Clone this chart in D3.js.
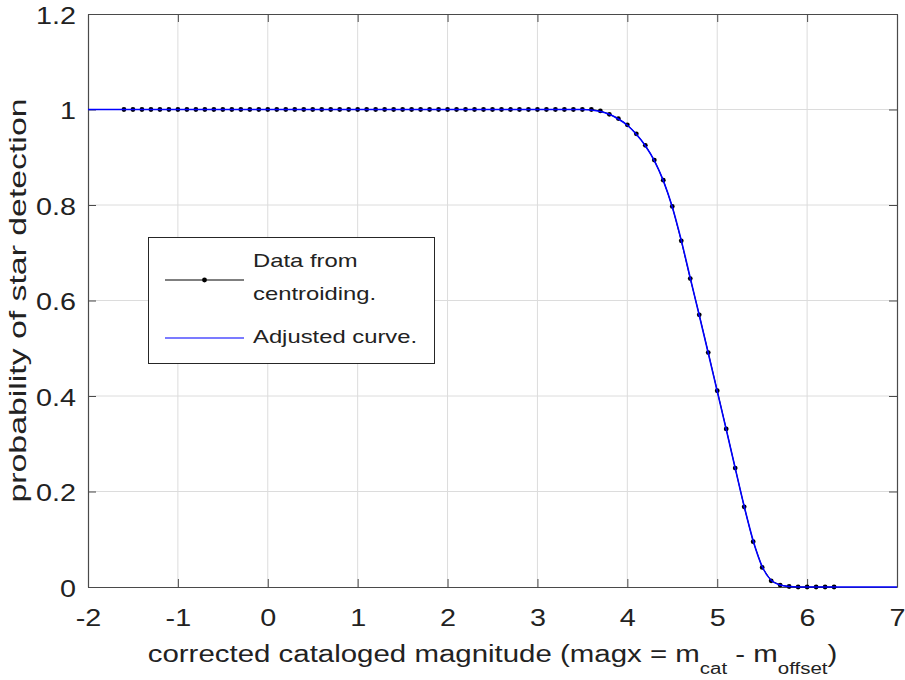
<!DOCTYPE html>
<html>
<head>
<meta charset="utf-8">
<style>
  body { margin: 0; background: #fff; }
  text { font-family: "Liberation Sans", Arial, sans-serif; fill: #222; }
</style>
</head>
<body>
<svg id="chart" width="905" height="680"></svg>
<script src="https://cdn.jsdelivr.net/npm/d3@7"></script>
<script>
// data: detection probability vs corrected magnitude
const magx = [-1.6, -1.5, -1.4, -1.3, -1.2, -1.1, -1.0, -0.9, -0.8, -0.7,
  -0.6, -0.5, -0.4, -0.3, -0.2, -0.1, 0.0, 0.1, 0.2, 0.3,
  0.4, 0.5, 0.6, 0.7, 0.8, 0.9, 1.0, 1.1, 1.2, 1.3,
  1.4, 1.5, 1.6, 1.7, 1.8, 1.9, 2.0, 2.1, 2.2, 2.3,
  2.4, 2.5, 2.6, 2.7, 2.8, 2.9, 3.0, 3.1, 3.2, 3.3,
  3.4, 3.5, 3.6, 3.7, 3.8, 3.9, 4.0, 4.1, 4.2, 4.3,
  4.4, 4.5, 4.6, 4.7, 4.8, 4.9, 5.0, 5.1, 5.2, 5.3,
  5.4, 5.5, 5.6, 5.7, 5.8, 5.9, 6.0, 6.1, 6.2, 6.3];
const pDetect = [1, 1, 1, 1, 1, 1, 1, 1, 1, 1,
  1, 1, 1, 1, 1, 1, 1, 1, 1, 1,
  1, 1, 1, 1, 1, 1, 1, 1, 1, 1,
  1, 1, 1, 1, 1, 1, 1, 1, 1, 1,
  1, 1, 1, 1, 1, 1, 1, 1, 1, 1,
  1, 1, 1, 0.997, 0.990, 0.981, 0.968, 0.949, 0.925, 0.894,
  0.852, 0.797, 0.725, 0.646, 0.570, 0.491, 0.411, 0.331, 0.249, 0.168,
  0.095, 0.041, 0.013, 0.004, 0.001, 0, 0, 0, 0, 0];

// adjusted (fitted) curve, sampled off the blue line
const fitX = [-2, 3.5, 3.6, 3.7, 3.8, 3.9, 4.0, 4.1, 4.2, 4.3, 4.4, 4.5, 4.6,
  4.7, 4.8, 4.9, 5.0, 5.1, 5.2, 5.3, 5.4, 5.5, 5.6, 5.7, 5.8, 5.9, 7];
const fitP = [1, 1, 0.999, 0.996, 0.990, 0.980, 0.967, 0.948, 0.924, 0.893, 0.851, 0.796, 0.726,
  0.647, 0.569, 0.490, 0.410, 0.330, 0.249, 0.169, 0.097, 0.043, 0.014, 0.004, 0.001, 0, 0];

const xTicks = [-2, -1, 0, 1, 2, 3, 4, 5, 6, 7];
const yTicks = [0, 0.2, 0.4, 0.6, 0.8, 1, 1.2];

const pLeft = 88, pRight = 897, pTop = 14, pBottom = 587;
const stretch = 1.25; // glyphs in the picture are wider than Arial

const svg = d3.select("#chart");
const x = d3.scaleLinear().domain([-2, 7]).range([pLeft, pRight]);
const y = d3.scaleLinear().domain([0, 1.2]).range([pBottom, pTop]);

// grid
svg.append("g").selectAll("line").data(xTicks.slice(1, -1)).join("line")
  .attr("x1", d => x(d)).attr("x2", d => x(d))
  .attr("y1", pTop).attr("y2", pBottom)
  .attr("stroke", "#dcdcdc").attr("stroke-width", 1);
svg.append("g").selectAll("line").data(yTicks.slice(1, -1)).join("line")
  .attr("x1", pLeft).attr("x2", pRight)
  .attr("y1", d => y(d)).attr("y2", d => y(d))
  .attr("stroke", "#dcdcdc").attr("stroke-width", 1);

// axes (ticks pointing inward, box all round)
const fmt = d => d3.format("~g")(d).replace("−", "-");
const axStyle = g => {
  g.select(".domain").attr("stroke", "#4a4a4a").attr("stroke-width", 1.2);
  g.selectAll(".tick line").attr("stroke", "#4a4a4a");
};
const xAxis = svg.append("g").attr("transform", `translate(0,${pBottom})`)
  .call(d3.axisBottom(x).tickValues(xTicks).tickSize(-8).tickSizeOuter(0).tickFormat(fmt))
  .call(axStyle);
xAxis.selectAll(".tick text")
  .attr("y", 0).attr("dy", 0)
  .attr("transform", `translate(0,39) scale(${stretch},1)`)
  .attr("font-size", 23).attr("fill", "#222");

const yAxis = svg.append("g").attr("transform", `translate(${pLeft},0)`)
  .call(d3.axisLeft(y).tickValues(yTicks).tickSize(-8).tickSizeOuter(0).tickFormat(fmt))
  .call(axStyle);
yAxis.selectAll(".tick text")
  .attr("x", 0).attr("dy", "0.35em")
  .attr("transform", `translate(-12,1) scale(${stretch},1)`)
  .attr("font-size", 23).attr("fill", "#222");

svg.append("g").attr("transform", `translate(0,${pTop})`)
  .call(d3.axisTop(x).tickValues(xTicks).tickSize(-8).tickSizeOuter(0).tickFormat(""))
  .call(axStyle);
svg.append("g").attr("transform", `translate(${pRight},0)`)
  .call(d3.axisRight(y).tickValues(yTicks).tickSize(-8).tickSizeOuter(0).tickFormat(""))
  .call(axStyle);

// series
const pts = magx.map((m, i) => [m, pDetect[i]]);
const fit = fitX.map((m, i) => [m, fitP[i]]);
const line = d3.line().x(d => x(d[0])).y(d => y(d[1]));

svg.append("path").datum(pts).attr("d", line)
  .attr("fill", "none").attr("stroke", "#000").attr("stroke-width", 1);
svg.append("g").selectAll("circle").data(pts).join("circle")
  .attr("cx", d => x(d[0])).attr("cy", d => y(d[1])).attr("r", 2.4)
  .attr("fill", "#000");
svg.append("path").datum(fit).attr("d", line.curve(d3.curveMonotoneX))
  .attr("fill", "none").attr("stroke", "#0000ff").attr("stroke-width", 1.6);

// axis titles
const xt = svg.append("text")
  .attr("transform", `translate(${(pLeft + pRight) / 2},662) scale(1.28,1)`)
  .attr("text-anchor", "middle").attr("font-size", 23);
xt.append("tspan").text("corrected cataloged magnitude (magx = m");
xt.append("tspan").attr("dy", 12).attr("font-size", 16).text("cat");
xt.append("tspan").attr("dy", -12).text(" - m");
xt.append("tspan").attr("dy", 12).attr("font-size", 16).text("offset");
xt.append("tspan").attr("dy", -12).text(")");

svg.append("text")
  .attr("transform", `translate(26,${(pTop + pBottom) / 2}) rotate(-90) scale(1.38,1)`)
  .attr("text-anchor", "middle").attr("font-size", 24.5)
  .text("probability of star detection");

// legend
const lg = svg.append("g");
lg.append("rect").attr("x", 148.5).attr("y", 237.5).attr("width", 286).attr("height", 126)
  .attr("fill", "#fff").attr("stroke", "#262626").attr("stroke-width", 1);
lg.append("line").attr("x1", 165).attr("x2", 244).attr("y1", 280).attr("y2", 280)
  .attr("stroke", "#000").attr("stroke-width", 1);
lg.append("circle").attr("cx", 204.5).attr("cy", 280).attr("r", 2.4).attr("fill", "#000");
lg.append("line").attr("x1", 165).attr("x2", 244).attr("y1", 338).attr("y2", 338)
  .attr("stroke", "#4f4fff").attr("stroke-width", 1.6);
const legendText = [["Data from", 267], ["centroiding.", 300], ["Adjusted curve.", 343]];
lg.selectAll("text.lt").data(legendText).join("text")
  .attr("class", "lt")
  .attr("transform", d => `translate(253,${d[1]}) scale(1.28,1)`)
  .attr("font-size", 18.6)
  .text(d => d[0]);
</script>
</body>
</html>
